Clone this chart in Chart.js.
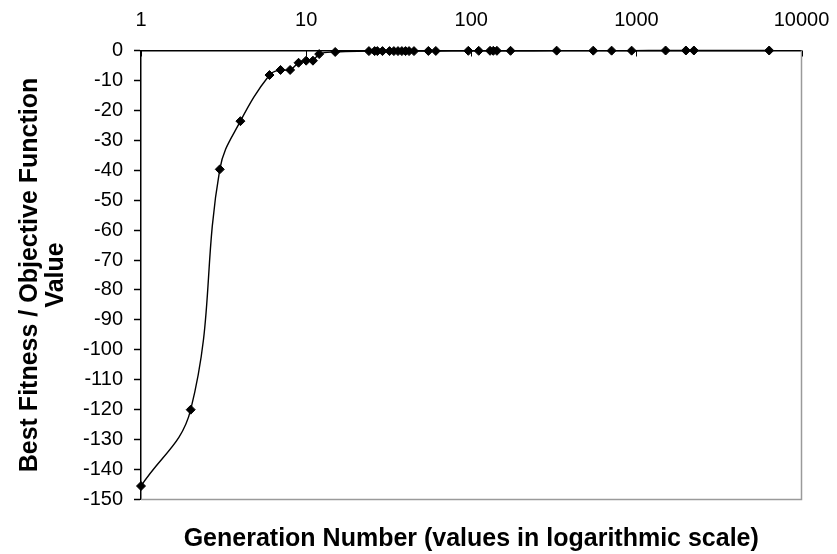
<!DOCTYPE html>
<html>
<head>
<meta charset="utf-8">
<script src="https://cdn.jsdelivr.net/npm/chart.js@4.4.0/dist/chart.umd.min.js"></script>
<style>
  html, body { margin: 0; padding: 0; background: #fff; }
</style>
</head>
<body>
<canvas id="chart" width="837" height="554"></canvas>
<script>
// generation number (log axis) and best fitness found at that generation
var generations = [1, 2, 3, 4, 6, 7, 8, 9, 10, 11, 12, 15,
  24, 26, 27, 29, 32, 34, 36, 38, 40, 42, 45, 55, 61,
  96, 111, 130, 136, 143, 173, 329, 548, 708, 936, 1503, 1995, 2230, 6370];
var bestFitness = [-145.5, -120, -39.7, -23.6, -8.2, -6.5, -6.5, -4.1, -3.4, -3.4, -1.2, -0.5,
  -0.2, -0.2, -0.2, -0.2, -0.2, -0.2, -0.2, -0.2, -0.2, -0.2, -0.2, -0.15, -0.15,
  -0.1, -0.1, -0.1, -0.1, -0.1, -0.1, -0.05, -0.05, -0.05, -0.05, 0, 0, 0, 0];
var xTickValues = [1, 10, 100, 1000, 10000];

var FONT = "'Liberation Sans', Arial, sans-serif";

// grey frame on the right / bottom and the short decade ticks hanging below the top axis
var plotFrame = {
  id: 'plotFrame',
  beforeDatasetsDraw: function(chart) {
    var a = chart.chartArea, ctx = chart.ctx;
    ctx.save();
    ctx.strokeStyle = '#9a9a9a';
    ctx.lineWidth = 1.5;
    ctx.beginPath();
    ctx.moveTo(a.left, a.bottom);
    ctx.lineTo(a.right, a.bottom);
    ctx.lineTo(a.right, a.top);
    ctx.stroke();
    ctx.strokeStyle = '#000';
    ctx.lineWidth = 1;
    xTickValues.forEach(function(v) {
      var px = Math.round(chart.scales.x.getPixelForValue(v)) + 0.5;
      ctx.beginPath();
      ctx.moveTo(px, a.top);
      ctx.lineTo(px, a.top + 6);
      ctx.stroke();
    });
    ctx.restore();
  }
};

new Chart(document.getElementById('chart'), {
  type: 'line',
  data: {
    datasets: [{
      data: generations.map(function(g, i) { return { x: g, y: bestFitness[i] }; }),
      borderColor: '#000',
      backgroundColor: '#000',
      borderWidth: 1.4,
      pointStyle: 'rectRot',
      pointRadius: 4.5,
      pointBorderWidth: 1,
      tension: 0.4,
      clip: false
    }]
  },
  options: {
    responsive: false,
    animation: false,
    devicePixelRatio: 1,
    layout: { padding: { left: 0, right: 35.5, top: 0, bottom: 0 } },
    plugins: {
      legend: { display: false },
      tooltip: { enabled: false }
    },
    scales: {
      x: {
        type: 'logarithmic',
        position: 'top',
        min: 1,
        max: 10000,
        afterBuildTicks: function(scale) {
          scale.ticks = xTickValues.map(function(v) { return { value: v }; });
        },
        afterFit: function(scale) {
          scale.height = 50.5;
          scale.paddingLeft = 0;
          scale.paddingRight = 0;
        },
        grid: { display: false, drawTicks: false },
        border: { display: true, color: '#000', width: 1.5 },
        ticks: {
          color: '#000',
          font: { family: FONT, size: 20 },
          padding: 18,
          autoSkip: false,
          maxRotation: 0,
          callback: function(v) { return String(v); }
        }
      },
      x2: {
        type: 'linear',
        position: 'bottom',
        min: 0,
        max: 1,
        afterFit: function(scale) { scale.height = 54.5; },
        grid: { display: false, drawTicks: false },
        border: { display: false },
        ticks: { display: false },
        title: {
          display: true,
          text: 'Generation Number (values in logarithmic scale)',
          color: '#000',
          font: { family: FONT, size: 25, weight: 'bold' },
          padding: { top: 0, bottom: 0 }
        }
      },
      y: {
        position: 'left',
        min: -150,
        max: 0,
        afterFit: function(scale) { scale.width = 141; },
        grid: { display: true, drawOnChartArea: false, drawTicks: true, tickLength: 7, tickColor: '#000', tickWidth: 1.5 },
        border: { display: true, color: '#000', width: 1.5 },
        ticks: {
          stepSize: 10,
          color: '#000',
          font: { family: FONT, size: 20 },
          padding: 11
        },
        title: {
          display: true,
          text: ['Best Fitness / Objective Function', 'Value'],
          color: '#000',
          font: { family: FONT, size: 25, weight: 'bold', lineHeight: 1.05 },
          padding: { top: 17, bottom: 0 }
        }
      }
    }
  },
  plugins: [plotFrame]
});
</script>
</body>
</html>
